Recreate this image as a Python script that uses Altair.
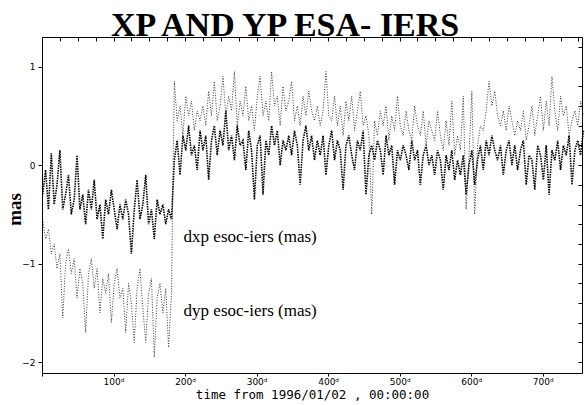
import altair as alt
import pandas as pd

# ---- data (every 4th day) ----
days_first = list(range(1, 182, 4))
days_second = list(range(185, 758, 4))

dxp_first = [-0.30, -0.05, -0.45, 0.12, -0.40, -0.20, 0.15, -0.45, -0.30, -0.10,
             -0.50, -0.35, 0.10, -0.45, -0.30, -0.60, -0.25, -0.45, -0.15, -0.55,
             -0.40, -0.75, -0.35, -0.50, -0.25, -0.45, -0.65, -0.40, -0.55, -0.35,
             -0.50, -0.90, -0.45, -0.15, -0.55, -0.40, -0.10, -0.60, -0.45, -0.75,
             -0.35, -0.50, -0.40, -0.60, -0.45, -0.55]
dyp_first = [-0.55, -0.75, -0.65, -0.90, -0.80, -1.05, -0.90, -1.55, -1.00, -0.85,
             -1.10, -0.95, -1.35, -1.05, -1.20, -1.70, -1.10, -0.95, -1.25, -1.05,
             -1.50, -1.15, -1.30, -1.10, -1.60, -1.20, -1.05, -1.35, -1.25, -1.70,
             -1.20, -1.40, -1.80, -1.25, -1.05, -1.45, -1.80, -1.30, -1.15, -1.95,
             -1.35, -1.20, -1.50, -1.25, -1.85, -1.30]

dxp_second = [0.05, 0.25, -0.10, 0.30, 0.15, 0.40, 0.10, 0.20, -0.05, 0.35,
              0.15, 0.30, -0.15, 0.25, 0.40, 0.10, 0.35, 0.20, 0.55, 0.15,
              0.30, 0.05, 0.40, 0.20, 0.25, -0.05, 0.35, 0.15, -0.35, 0.20,
              0.30, -0.30, 0.25, 0.10, 0.40, 0.20, 0.35, 0.00, 0.25, 0.15,
              0.30, 0.10, 0.35, 0.20, -0.20, 0.25, 0.40, 0.15, 0.30, 0.05,
              0.25, 0.10, 0.30, -0.10, 0.20, 0.35, 0.05, 0.25, 0.15, -0.25,
              0.20, 0.30, 0.10, -0.05, 0.25, 0.15, 0.35, -0.30, 0.10, 0.20,
              0.05, 0.25, 0.15, -0.10, 0.30, 0.10, 0.20, -0.20, 0.15, 0.05,
              0.20, 0.10, -0.05, 0.25, 0.05, 0.15, -0.20, 0.10, 0.20, 0.00,
              0.10, -0.10, 0.15, 0.05, -0.25, 0.10, -0.05, 0.15, -0.15, 0.05,
              -0.10, 0.10, -0.30, 0.00, 0.15, -0.20, 0.05, 0.20, -0.05, 0.25,
              0.10, 0.30, 0.15, 0.05, 0.20, -0.10, 0.15, 0.25, 0.00, 0.20,
              -0.05, 0.15, 0.25, -0.20, 0.10, 0.05, -0.25, 0.20, 0.10, -0.15,
              0.20, -0.30, 0.15, 0.05, 0.25, -0.05, 0.20, 0.10, 0.30, -0.20,
              0.15, 0.25, 0.10, 0.35]
dyp_second = [0.85, 0.45, 0.60, 0.30, 0.70, 0.50, 0.65, 0.35, 0.55, 0.45,
              0.60, 0.40, 0.75, 0.50, 0.85, 0.45, 0.60, 0.90, 0.50, 0.70,
              0.55, 0.95, 0.40, 0.65, 0.50, 0.80, 0.45, 0.60, 0.35, 0.70,
              0.90, 0.50, 0.65, 0.45, 0.95, 0.60, 0.70, 0.40, 0.80, 0.55,
              0.65, 0.85, 0.45, 0.60, 0.40, 0.70, 0.50, 0.75, 0.55, 0.45,
              0.60, 0.40, 0.55, 0.95, 0.50, 0.45, 0.70, 0.40, 0.60, 0.30,
              0.65, 0.45, 0.70, 0.35, 0.55, 0.75, 0.40, 0.50, 0.30, -0.50,
              0.45, 0.30, 0.55, 0.40, 0.60, 0.25, 0.50, 0.35, 0.70, 0.40,
              0.30, 0.55, 0.35, 0.25, 0.60, 0.40, 0.30, 0.55, 0.20, 0.45,
              0.35, 0.25, 0.55, 0.30, 0.15, 0.45, 0.20, 0.65, 0.10, 0.30,
              0.15, 0.70, -0.45, 0.10, 0.75, -0.50, 0.20, 0.40, 0.35, 0.55,
              0.85, 0.60, 0.75, 0.50, 0.40, 0.55, 0.35, 0.60, 0.45, 0.30,
              0.45, 0.35, 0.55, 0.25, 0.40, 0.60, 0.30, 0.50, 0.70, 0.35,
              0.65, 0.40, 0.90, 0.55, 0.35, 0.70, 0.50, 0.60, 0.30, 0.45,
              0.55, 0.40, 0.65, 0.50]

series_labels = ["dxp esoc-iers (mas)", "dyp esoc-iers (mas)"]
x_ticks = list(range(0, 756, 25))
y_labels = [-2, -1, 0, 1]
y_ticks = [-2.0, -1.8, -1.6, -1.4, -1.2, -1.0, -0.8, -0.6, -0.4, -0.2, 0.0,
           0.2, 0.4, 0.6, 0.8, 1.0, 1.2]

days = days_first + days_second
df = pd.DataFrame({
    "day": days * 2,
    "value": dxp_first + dxp_second + dyp_first + dyp_second,
    "series": ["dxp"] * len(days) + ["dyp"] * len(days),
})

xscale = alt.Scale(domain=[0, 755], nice=False, zero=False)
yscale = alt.Scale(domain=[-2.11, 1.30], nice=False, zero=False)

x_main = alt.X("day:Q", scale=xscale, axis=alt.Axis(
    values=x_ticks, tickSize=3, domain=False, grid=False, labelOverlap=False,
    labelExpr="datum.value % 100 == 0 && datum.value > 0 ? datum.value + 'ᵈ' : ''",
    labelFont="DejaVu Sans", labelFontSize=9, labelColor="black", labelPadding=1,
    title="time from 1996/01/02 , 00:00:00", titleFont="DejaVu Sans Mono",
    titleFontSize=12.5, titleFontWeight="normal", titleColor="black", titlePadding=2,
    tickColor="black"))
y_main = alt.Y("value:Q", scale=yscale, axis=alt.Axis(
    values=y_labels, tickSize=4, domain=False, grid=False, labelOverlap=False,
    format="d",
    labelFont="DejaVu Sans", labelFontSize=9, labelColor="black", labelPadding=3,
    title="mas", titleFont="Liberation Serif", titleFontSize=19, titleFontWeight="bold",
    titleColor="black", titleAngle=270, titleX=-18, titleY=172, titleAlign="center",
    titleBaseline="bottom", tickColor="black"))

base = alt.Chart(df)

dyp_line = base.transform_filter(alt.datum.series == "dyp").mark_line(
    color="#3a3a3a", strokeWidth=1.0, strokeDash=[1, 1.6]
).encode(x=x_main, y=y_main)

dxp_line = base.transform_filter(alt.datum.series == "dxp").mark_line(
    color="black", strokeWidth=1.6, strokeDash=[1.5, 1]
).encode(x=alt.X("day:Q", scale=xscale), y=alt.Y("value:Q", scale=yscale))

txt1 = alt.Chart(pd.DataFrame({"label": [series_labels[0]]})).mark_text(
    align="left", baseline="middle",
    font="Liberation Serif", fontSize=17, color="black"
).encode(text="label:N", x=alt.datum(198), y=alt.datum(-0.73))
txt2 = alt.Chart(pd.DataFrame({"label": [series_labels[1]]})).mark_text(
    align="left", baseline="middle",
    font="Liberation Serif", fontSize=17, color="black"
).encode(text="label:N", x=alt.datum(198), y=alt.datum(-1.48))

main = alt.layer(dyp_line, dxp_line, txt1, txt2)

frame_ticks = base.transform_filter(alt.datum.series == "dxp").mark_line(
    strokeOpacity=0
).encode(
    x=alt.X("day:Q", scale=xscale, axis=alt.Axis(
        orient="bottom", offset=-336, values=x_ticks, tickSize=4, labels=False,
        domain=False, grid=False, title=None, tickColor="black")),
    y=alt.Y("value:Q", scale=yscale, axis=alt.Axis(
        orient="left", offset=-540, values=y_ticks, tickSize=4, labels=False,
        domain=False, grid=False, title=None, tickColor="black")),
)

chart = alt.layer(main, frame_ticks).resolve_axis(
    x="independent", y="independent"
).properties(
    width=540, height=336,
    title=alt.TitleParams(
        "XP AND YP ESA- IERS", font="Liberation Serif", fontSize=34,
        fontWeight="bold", color="black", anchor="start", dx=106, dy=35,
        baseline="alphabetic", offset=2),
    autosize=alt.AutoSizeParams(type="none"),
    padding={"left": 42, "top": 37, "right": 3, "bottom": 32},
    background="white",
).configure_view(stroke="black", strokeWidth=1)

chart.save("out.html", embed_options={"renderer": "svg", "actions": False})
